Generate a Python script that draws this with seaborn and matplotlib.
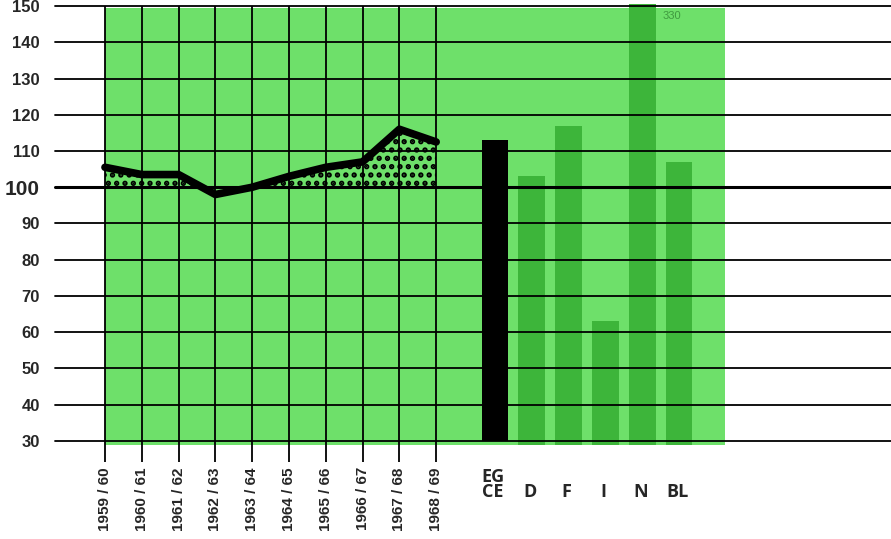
import numpy as np
import pandas as pd
import seaborn as sns
import matplotlib.pyplot as plt

# ===============================
# DATA
# ===============================
seasons = ["1959 / 60", "1960 / 61", "1961 / 62", "1962 / 63", "1963 / 64",
           "1964 / 65", "1965 / 66", "1966 / 67", "1967 / 68", "1968 / 69"]
index_values = [105.5, 103.5, 103.5, 98, 100, 103, 105.5, 107, 116, 112.5]

countries = ["EG\nCE", "D", "F", "I", "N", "BL"]
country_values = [113, 103, 117, 63, 330, 107]
country_pos = [10.6, 11.6, 12.6, 13.6, 14.6, 15.6]

y_ticks = [30, 40, 50, 60, 70, 80, 90, 100, 110, 120, 130, 140, 150]

light_green = "#6ee06a"
bar_green = "#3db53a"

# ===============================
# FIGURE
# ===============================
sns.set_style("white")
plt.rcParams['font.family'] = ['Liberation Sans', 'DejaVu Sans']
plt.rcParams['hatch.linewidth'] = 2.6

fig = plt.figure(figsize=(8.91, 5.39), dpi=100)
ax = fig.add_axes([0.0617, 0.1718, 0.9383, 0.8204])

# green background panel
ax.add_patch(plt.Rectangle((0, 29), 16.85, 120.5, color=light_green, zorder=0, lw=0))

# country bars
bars_df = pd.DataFrame({"pos": country_pos, "value": country_values, "land": countries})
sns.barplot(data=bars_df, x="pos", y="value", hue="land", native_scale=True,
            palette=["black"] + [bar_green] * 5, width=0.73, dodge=False,
            legend=False, ax=ax, zorder=1, saturation=1, linewidth=0)
for p in ax.patches[1:]:
    if p.get_facecolor()[:3] == (0.0, 0.0, 0.0):
        p.set_y(30)
        p.set_height(p.get_height() - 30)
    else:
        p.set_y(29)
        p.set_height(p.get_height() - 29)

# dotted area above 100 and index line
x_idx = np.arange(len(seasons))
ax.fill_between(x_idx, 100, index_values, where=np.array(index_values) >= 100,
                interpolate=True, facecolor="none", edgecolor="black",
                hatch="..", lw=0, zorder=2)
sns.lineplot(x=x_idx, y=index_values, color="black", lw=5.5, ax=ax, zorder=4)

# grid lines
for y in y_ticks:
    ax.axhline(y, color="black", lw=2.2 if y == 100 else 1.3, zorder=3, clip_on=False)
ax.vlines(x_idx, 24.2, 150, color="black", lw=1.3, zorder=3, clip_on=False)

ax.text(15.15, 146.5, "330", fontsize=8, color="#3f9a3f", zorder=2)

# ===============================
# AXES / LABELS
# ===============================
ax.set_xlim(-1.359, 21.36)
ax.set_ylim(28.5, 150.5)
sns.despine(ax=ax, left=True, bottom=True)

ax.set_yticks(y_ticks)
ax.set_yticklabels([str(v) for v in y_ticks], fontweight="bold", fontsize=12)
ax.get_yticklabels()[7].set_fontsize(15)
ax.tick_params(axis="y", length=0, pad=11)

ax.set_xticks(x_idx)
ax.set_xticklabels(seasons, rotation=90, fontweight="bold", fontsize=11)
ax.tick_params(axis="x", length=0, pad=15)
ax.set_xlabel("")
ax.set_ylabel("")

for pos, lab in zip(country_pos, countries):
    ax.text(pos - 0.05, -0.1235, lab, transform=ax.get_xaxis_transform(),
            ha="center", va="bottom", fontweight="bold", fontsize=13,
            family=["Open Sans", "DejaVu Sans"], linespacing=0.8)

plt.savefig("out.png", dpi=100)
